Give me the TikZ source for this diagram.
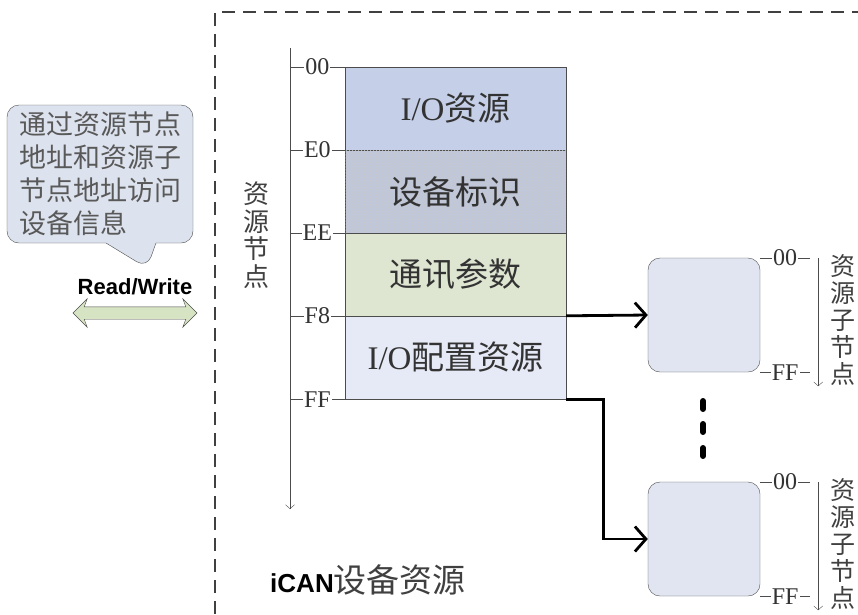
\documentclass[tikz,border=0pt]{standalone}
\usepackage{fontspec}
\setmainfont{Liberation Serif}
\newfontfamily\cjk{Noto Sans CJK SC}
\newfontfamily\hei{Liberation Sans}
\usetikzlibrary{arrows.meta,shapes.callouts,shapes.arrows,patterns}

\definecolor{ioblue}{RGB}{197,208,232}
\definecolor{idgray}{RGB}{192,200,218}
\definecolor{commgreen}{RGB}{222,230,210}
\definecolor{cfgblue}{RGB}{230,234,246}
\definecolor{notefill}{RGB}{221,227,238}
\definecolor{subfill}{RGB}{224,229,241}
\definecolor{rwgreen}{RGB}{215,228,195}

\begin{document}
\begin{tikzpicture}[x=1pt,y=-1pt]
    \tikzstyle{seg}=[draw=black!70, minimum width=221pt, minimum height=83pt, inner sep=0pt, text=black!80, font=\fontsize{33}{36}\selectfont];
    \tikzstyle{subbox}=[draw=black!70, fill=subfill, rounded corners=12pt, minimum width=112pt, minimum height=114pt];
    \tikzstyle{lbl}=[fill=white, inner sep=1pt, text=black!80, font=\fontsize{24}{25}\selectfont];
    \tikzstyle{tick}=[draw=black!70, thin];
    \tikzstyle{axis}=[draw=black!70, thin, -{Straight Barb[length=4pt,width=9pt]}];
    \tikzstyle{link}=[line width=2.8pt, -{Straight Barb[length=11pt,width=25pt]}];
    \tikzstyle{vlbl}=[align=center, inner sep=0pt, text=black!75, font=\cjk\fontsize{25}{27}\selectfont];

    \useasboundingbox (0,0) rectangle (858,614);

    % dashed frame
    \draw[black!75, line width=1.3pt, dash pattern=on 13pt off 8pt] (215,614) -- (215,12) -- (858,12);

    % note and read/write
    \node (note) at (100,174) [rectangle callout, draw=black!70, fill=notefill, rounded corners=12pt, minimum width=186pt, minimum height=138pt, callout absolute pointer={(147,268)}, callout pointer width=50pt, align=left, text=black!65, font=\cjk\fontsize{27}{33}\selectfont] {通过资源节点\\地址和资源子\\节点地址访问\\设备信息};
    \node (rwlbl) at (135,287) [font=\hei\bfseries\fontsize{22}{24}\selectfont] {Read/Write};
    \node (rw) at (135,313) [double arrow, draw=black!70, fill=rwgreen, minimum height=124pt, inner xsep=0pt, inner ysep=6pt, double arrow head extend=8pt, double arrow head indent=3pt] {};

    % resource node axis
    \coordinate (axtop) at (290,48);
    \coordinate (axbot) at (290,509);
    \draw[axis] (axtop) -- (axbot);
    \node (nodelbl) at (256,235) [vlbl, font=\cjk\fontsize{26}{27.5}\selectfont] {资\\源\\节\\点};

    \node (io) at (455.5,108.5) [seg, fill=ioblue] {I/O{\cjk 资源}};
    \node (id) at (455.5,191.5) [seg, fill=idgray, postaction={pattern=crosshatch dots, pattern color=black!22}] {\cjk 设备标识};
    \node (comm) at (455.5,274.5) [seg, fill=commgreen] {\cjk 通讯参数};
    \node (cfg) at (455.5,357.5) [seg, fill=cfgblue] {I/O{\cjk 配置资源}};

    \draw[tick] (io.north west -| axtop) -- (io.north west) node[midway, lbl] {00};
    \draw[tick] (id.north west -| axtop) -- (id.north west) node[midway, lbl] {E0};
    \draw[tick] (comm.north west -| axtop) -- (comm.north west) node[midway, lbl] {EE};
    \draw[tick] (cfg.north west -| axtop) -- (cfg.north west) node[midway, lbl] {F8};
    \draw[tick] (cfg.south west -| axtop) -- (cfg.south west) node[midway, lbl] {FF};

    % sub nodes
    \node (sub1) at (704,315) [subbox] {};
    \node (sub2) at (704,539) [subbox] {};

    \draw[link] (cfg.north east) -- (sub1.west);
    \draw[link] (cfg.south east) -- ++(37,0) |- (sub2.west);

    \draw[tick] (sub1.north east) -- ++(50,0) node[midway, lbl] {00};
    \draw[tick] (sub1.south east) -- ++(50,0) node[midway, lbl] {FF};
    \draw[axis] ([xshift=58pt]sub1.north east) -- ([xshift=58pt, yshift=-14pt]sub1.south east);
    \node (sub1lbl) at (843,320) [vlbl] {资\\源\\子\\节\\点};

    \draw[tick] (sub2.north east) -- ++(50,0) node[midway, lbl] {00};
    \draw[tick] (sub2.south east) -- ++(50,0) node[midway, lbl] {FF};
    \draw[axis] ([xshift=58pt]sub2.north east) -- ([xshift=58pt, yshift=-14pt]sub2.south east);
    \node (sub2lbl) at (843,544) [vlbl] {资\\源\\子\\节\\点};

    % more sub nodes
    \foreach \y in {405,428,452}
        \draw[line width=6pt, line cap=round] (703,\y-4) -- (703,\y+4);

    \node (title) at (368,580) {{\hei\bfseries\fontsize{26}{28}\selectfont iCAN}{\cjk\color{black!75}\fontsize{33}{35}\selectfont 设备资源}};

\end{tikzpicture}
\end{document}
